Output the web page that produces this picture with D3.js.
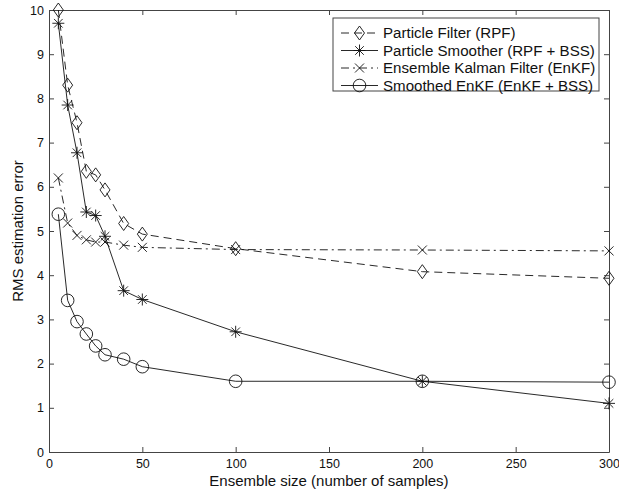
<!DOCTYPE html>
<html>
<head>
<meta charset="utf-8">
<script src="https://cdn.jsdelivr.net/npm/d3@7"></script>
<style>
  body { margin: 0; background: #fff; }
  text { font-family: "Liberation Sans", Arial, Helvetica, sans-serif; fill: #111; }
</style>
</head>
<body>
<div id="chart-area"></div>
<script>
// ensemble sizes on the x axis
var sizes = [5, 10, 15, 20, 25, 30, 40, 50, 100, 200, 300];

// RMS estimation error for each method
var rpf      = [10.0, 8.3, 7.45, 6.35, 6.27, 5.93, 5.17, 4.93, 4.6, 4.08, 3.93];
var rpfBss   = [9.7, 7.85, 6.77, 5.43, 5.35, 4.88, 3.65, 3.45, 2.72, 1.6, 1.1];
var enkf     = [6.2, 5.18, 4.9, 4.8, 4.75, 4.75, 4.68, 4.63, 4.58, 4.57, 4.55];
var enkfBss  = [5.38, 3.43, 2.95, 2.67, 2.4, 2.2, 2.1, 1.93, 1.6, 1.6, 1.58];

var seriesNames = ["Particle Filter (RPF)", "Particle Smoother (RPF + BSS)",
                   "Ensemble Kalman Filter (EnKF)", "Smoothed EnKF (EnKF + BSS)"];

var xTicks = [0, 50, 100, 150, 200, 250, 300];
var yTicks = [0, 1, 2, 3, 4, 5, 6, 7, 8, 9, 10];

var margin = { left: 49, right: 10, top: 10, bottom: 38 };
var width = 619 - margin.left - margin.right,
    height = 490 - margin.top - margin.bottom;

var svg = d3.select("#chart-area")
    .append("svg")
        .attr("width", 619)
        .attr("height", 490);

var g = svg.append("g")
    .attr("transform", "translate(" + margin.left + ", " + margin.top + ")");

var x = d3.scaleLinear().domain([0, 300]).range([0, width]);
var y = d3.scaleLinear().domain([0, 10]).range([height, 0]);

var axisColor = "#444";

// box + inward ticks on all four sides (matlab style)
function styleAxis(sel) {
    sel.select(".domain").attr("stroke", axisColor).attr("stroke-width", 1);
    sel.selectAll(".tick line").attr("stroke", axisColor);
    sel.selectAll(".tick text")
        .attr("font-size", "12.5px")
        .attr("fill", "#111");
}

g.append("g")
    .attr("transform", "translate(0," + height + ")")
    .call(d3.axisBottom(x).tickValues(xTicks).tickSizeInner(-5).tickSizeOuter(0).tickPadding(7))
    .call(styleAxis);

g.append("g")
    .call(d3.axisLeft(y).tickValues(yTicks).tickSizeInner(-5).tickSizeOuter(0).tickPadding(5))
    .call(styleAxis);

g.append("g")
    .call(d3.axisTop(x).tickValues(xTicks).tickSizeInner(-5).tickSizeOuter(0).tickFormat(""))
    .call(styleAxis);

g.append("g")
    .attr("transform", "translate(" + width + ",0)")
    .call(d3.axisRight(y).tickValues(yTicks).tickSizeInner(-5).tickSizeOuter(0).tickFormat(""))
    .call(styleAxis);

// axis labels
g.append("text")
    .attr("x", width / 2)
    .attr("y", height + 34)
    .attr("font-size", "15px")
    .attr("text-anchor", "middle")
    .text("Ensemble size (number of samples)");

g.append("text")
    .attr("x", -(height / 2))
    .attr("y", -26)
    .attr("font-size", "15px")
    .attr("text-anchor", "middle")
    .attr("transform", "rotate(-90)")
    .text("RMS estimation error");

// marker shapes
function drawMarker(sel, kind) {
    var s = sel.attr("fill", "none").attr("stroke", "#111").attr("stroke-width", 0.9);
    if (kind == "diamond") {
        s.append("path").attr("d", "M0,-7L5,0L0,7L-5,0Z");
    } else if (kind == "star") {
        s.append("path").attr("d", "M0,-6V6M-6,0H6M-4.3,-4.3L4.3,4.3M-4.3,4.3L4.3,-4.3");
    } else if (kind == "cross") {
        s.append("path").attr("d", "M-4.5,-4.5L4.5,4.5M-4.5,4.5L4.5,-4.5");
    } else {
        s.append("circle").attr("r", 6.3);
    }
}

var series = [
    { name: seriesNames[0], values: rpf,     dash: "8,5",       marker: "diamond" },
    { name: seriesNames[1], values: rpfBss,  dash: null,        marker: "star" },
    { name: seriesNames[2], values: enkf,    dash: "8,4,2,4",   marker: "cross" },
    { name: seriesNames[3], values: enkfBss, dash: null,        marker: "circle" }
];

var line = d3.line()
    .x(function(d, i) { return x(sizes[i]); })
    .y(function(d) { return y(d); });

series.forEach(function(s) {
    g.append("path")
        .datum(s.values)
        .attr("fill", "none")
        .attr("stroke", "#111")
        .attr("stroke-width", 0.9)
        .attr("stroke-dasharray", s.dash)
        .attr("d", line);

    s.values.forEach(function(v, i) {
        var m = g.append("g")
            .attr("transform", "translate(" + x(sizes[i]) + "," + y(v) + ")");
        drawMarker(m, s.marker);
    });
});

// legend
var legend = svg.append("g").attr("transform", "translate(333,18)");

legend.append("rect")
    .attr("width", 266)
    .attr("height", 73)
    .attr("fill", "#fff")
    .attr("stroke", axisColor)
    .attr("stroke-width", 1);

series.forEach(function(s, i) {
    var row = legend.append("g")
        .attr("transform", "translate(0," + (15 + i * 17.5) + ")");
    row.append("line")
        .attr("x1", 8).attr("x2", 45)
        .attr("y1", 0).attr("y2", 0)
        .attr("stroke", "#111")
        .attr("stroke-width", 0.9)
        .attr("stroke-dasharray", s.dash);
    var m = row.append("g").attr("transform", "translate(26.5,0)");
    drawMarker(m, s.marker);
    row.append("text")
        .attr("x", 50)
        .attr("y", 5)
        .attr("font-size", "15.1px")
        .text(s.name);
});
</script>
</body>
</html>
